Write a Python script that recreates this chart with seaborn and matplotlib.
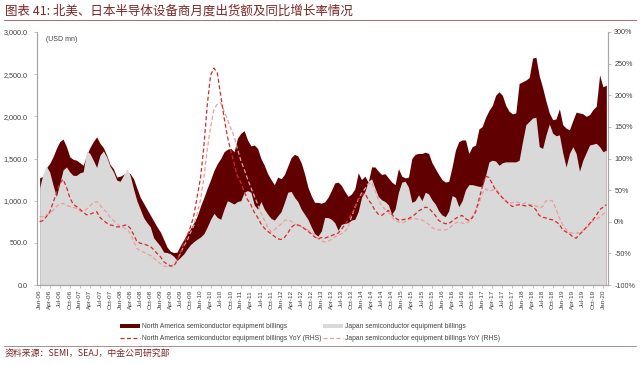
import numpy as np
import pandas as pd
import matplotlib
matplotlib.use("Agg")
import matplotlib.pyplot as plt
import seaborn as sns
from matplotlib.ticker import FuncFormatter, MultipleLocator
from matplotlib.lines import Line2D
from matplotlib.patches import Patch

# ---------------- data ----------------
months = pd.date_range("2006-01-01", "2020-02-01", freq="MS")
tick_labels = [d.strftime("%b-%y") for d in months[::3]]

na_billings = [
    1270, 1290, 1390, 1440, 1520, 1620, 1700, 1730, 1640, 1520, 1490, 1480,   # 2006
    1450, 1420, 1540, 1630, 1700, 1757, 1680, 1630, 1540, 1430, 1380, 1280,   # 2007
    1290, 1310, 1340, 1320, 1260, 1150, 1040, 970, 900, 830, 760, 690,        # 2008
    630, 540, 450, 400, 385, 390, 470, 540, 610, 670, 740, 820,               # 2009
    940, 1040, 1150, 1250, 1360, 1440, 1500, 1580, 1610, 1620, 1580, 1740,   # 2010
    1800, 1830, 1720, 1650, 1660, 1620, 1500, 1420, 1320, 1250, 1190, 1280,  # 2011
    1260, 1310, 1410, 1510, 1550, 1530, 1450, 1320, 1160, 1060, 980, 980,    # 2012
    970, 985, 1040, 1120, 1210, 1220, 1180, 1110, 1050, 1080, 1140, 1330,    # 2013
    1250, 1290, 1220, 1400, 1400, 1350, 1310, 1320, 1270, 1220, 1190, 1380,  # 2014
    1290, 1270, 1280, 1500, 1550, 1560, 1560, 1575, 1560, 1450, 1380, 1310,  # 2015
    1250, 1220, 1230, 1400, 1600, 1700, 1720, 1720, 1560, 1640, 1660, 1850,  # 2016
    1880, 1990, 2070, 2130, 2250, 2290, 2250, 2130, 2060, 2030, 2040, 2390,  # 2017
    2410, 2430, 2460, 2690, 2700, 2480, 2340, 2180, 2040, 1960, 1970, 2090,  # 2018
    1900, 1860, 1840, 1950, 2050, 2040, 2030, 2000, 2020, 2080, 2120, 2490,  # 2019
    2350, 2370,                                                               # 2020
]

japan_billings = [
    1150, 1320, 1410, 1340, 1185, 1050, 1205, 1365, 1400, 1340, 1300, 1300,
    1330, 1343, 1590, 1560, 1480, 1395, 1540, 1590, 1520, 1410, 1343, 1244,
    1230, 1300, 1380, 1300, 1140, 1000, 900, 800, 740, 690, 560, 510,
    460, 390, 385, 370, 340, 290, 330, 370, 430, 480, 515, 545,
    570, 610, 690, 780, 850, 800, 780, 900, 1000, 980, 960, 990,
    1000, 1100, 1120, 1100, 950, 900, 990, 900, 840, 790, 770, 820,
    870, 980, 1100, 1110, 1040, 990, 900, 840, 780, 690, 610, 580,
    640, 800, 800, 780, 740, 650, 720, 730, 740, 770, 780, 870,
    1040, 1110, 1230, 1260, 1150, 1050, 1010, 990, 950, 840, 900, 1100,
    1220, 1230, 1160, 980, 1000, 1070, 1000, 1100, 1080, 1010, 960, 880,
    830, 810, 880, 1060, 1040, 930, 1000, 1130, 1190, 1190, 1180, 1170,
    1170, 1300, 1460, 1480, 1470, 1420, 1450, 1460, 1460, 1460, 1460, 1480,
    1700, 1900, 1940, 1980, 1990, 1640, 1620, 1780, 1910, 1800, 1770, 1780,
    1570, 1400, 1560, 1640, 1560, 1350, 1480, 1570, 1660, 1670, 1680, 1640,
    1580, 1600,
]

na_yoy = [
    0, 2, 8, 15, 30, 45, 60, 67, 55, 38, 28, 24,
    20, 15, 11, 12, 14, 16, 7, 2, -2, -5, -6, -8,
    -8, -6, -5, -10, -20, -31, -34, -35, -37, -39, -44, -50,
    -55, -63, -67, -70, -70, -62, -48, -35, -22, -8, 10, 40,
    70, 120, 185, 232, 243, 235, 200, 165, 135, 112, 92, 72,
    62, 48, 35, 27, 15, 7, -3, -10, -15, -19, -23, -27,
    -28, -25, -18, -9, -5, -5, -7, -11, -15, -19, -24, -27,
    -25, -26, -24, -22, -20, -18, -12, -5, 3, 12, 22, 35,
    42, 45, 35, 28, 18, 12, 10, 14, 18, 12, 6, 3,
    3, 4, 5, 8, 12, 17, 20, 23, 22, 16, 10, 2,
    -1, -3, -3, 1, 5, 8, 10, 5, 2, 6, 15, 35,
    55, 72, 70, 60, 50, 44, 38, 33, 28, 24, 26, 27,
    26, 25, 26, 24, 19, 10, 7, 6, 4, 3, 0, -4,
    -13, -16, -19, -24, -26, -20, -15, -9, -3, 3, 10, 19,
    23, 27,
]

japan_yoy = [
    8, 8, 11, 13, 18, 24, 28, 29, 26, 24, 23, 21,
    17, 16, 20, 25, 30, 32, 26, 20, 15, 7, 2, -3,
    -7, -9, -12, -18, -30, -42, -46, -48, -51, -53, -57, -62,
    -66, -70, -71, -70, -68, -60, -50, -38, -30, -17, -6, 13,
    35, 70, 115, 150, 178, 186, 188, 175, 162, 148, 135, 115,
    97, 83, 68, 54, 41, 28, 14, 3, -8, -16, -13, -8,
    -4, 2, 3, 1, -3, -6, -8, -10, -13, -16, -21, -27,
    -30, -32, -31, -28, -24, -21, -19, -16, -9, 8, 22, 35,
    45, 52, 60, 62, 50, 35, 25, 20, 15, 8, 2, 0,
    -2, 0, 3, 5, 5, 4, 3, 0, -4, -9, -12, -13,
    -13, -13, -11, -6, -2, 0, -2, -3, 0, 8, 18, 28,
    45, 52, 48, 50, 52, 46, 38, 33, 30, 30, 32, 30,
    28, 30, 27, 27, 25, 22, 24, 33, 34, 33, 20, 6,
    -5, -12, -17, -18, -18, -17, -14, -10, -5, 2, 4, 7,
    12, 16,
]

label_na = "North America semiconductor equipment billings"
label_jp = "Japan semiconductor equipment billings"
label_na_yoy = "North America semiconductor equipment billings YoY (RHS)"
label_jp_yoy = "Japan semiconductor equipment billings YoY (RHS)"
title = "图表 41: 北美、日本半导体设备商月度出货额及同比增长率情况"
source = "资料来源：SEMI，SEAJ，中金公司研究部"

# ---------------- style ----------------
sns.set_theme(style="white")
plt.rcParams['font.family'] = ['Liberation Sans', 'Noto Sans CJK SC', 'DejaVu Sans']

C_NA = '#600000'
C_JP = '#D9D9D9'
C_NA_YOY = '#D22B2B'
C_JP_YOY = '#F09A9A'
C_AXIS = '#A6A6A6'
C_TXT = '#404040'
C_TITLE = '#7B2525'
DASH = (0, (3.2, 2.0))

df = pd.DataFrame({
    "idx": np.arange(len(months)),
    "na": na_billings,
    "jp": japan_billings,
    "na_yoy": na_yoy,
    "jp_yoy": japan_yoy,
})

W, H = 640, 365
fig = plt.figure(figsize=(W / 100, H / 100), dpi=100)
ax = fig.add_axes([37 / W, 1 - 285 / H, 571 / W, 253 / H])

ax.fill_between(df["idx"], 0, df["na"], color=C_NA, lw=0, zorder=1)
ax.fill_between(df["idx"], 0, df["jp"], color=C_JP, lw=0, zorder=2)

ax2 = ax.twinx()
sns.lineplot(data=df, x="idx", y="na_yoy", ax=ax2, color=C_NA_YOY,
             lw=0.9, linestyle=DASH, zorder=4)
sns.lineplot(data=df, x="idx", y="jp_yoy", ax=ax2, color=C_JP_YOY,
             lw=0.9, linestyle=DASH, zorder=3)

# axes limits / ticks
ax.set_xlim(-0.78, 169.5)
ax.set_ylim(0, 3000)
ax2.set_ylim(-100, 300)
ax.yaxis.set_major_locator(MultipleLocator(500))
ax2.yaxis.set_major_locator(MultipleLocator(50))
ax.yaxis.set_major_formatter(FuncFormatter(lambda v, p: f"{v:,.1f}"))
ax2.yaxis.set_major_formatter(FuncFormatter(lambda v, p: f"{int(round(v))}%"))
ax.set_xticks(np.arange(0, len(months), 3))
ax.set_xticklabels(tick_labels, rotation=90, fontsize=4.6, color=C_TXT)

for a in (ax, ax2):
    a.set_xlabel("")
    a.set_ylabel("")
    a.grid(False)
    a.spines['top'].set_visible(False)
    for s in ('left', 'right', 'bottom'):
        a.spines[s].set_color(C_AXIS)
        a.spines[s].set_linewidth(0.8)

ax.tick_params(axis='y', which='both', left=True, length=2.5, width=0.5,
               color=C_AXIS, labelsize=5.2, labelcolor=C_TXT, pad=4)
ax.tick_params(axis='x', bottom=True, length=2, width=0.5, color=C_AXIS, pad=1.5)
ax2.tick_params(axis='y', right=True, length=2.5, width=0.5, color=C_AXIS,
                labelsize=5.2, labelcolor=C_TXT, pad=2)

ax.text(0.0155, 0.985, "(USD mn)", transform=ax.transAxes,
        fontsize=5, color=C_TXT, va='top', ha='left')

# ---------------- legend (2 columns, aligned) ----------------
h_na = Patch(facecolor=C_NA, edgecolor='none')
h_jp = Patch(facecolor=C_JP, edgecolor='none')
h_nay = Line2D([], [], color=C_NA_YOY, lw=0.9, linestyle=DASH)
h_jpy = Line2D([], [], color=C_JP_YOY, lw=0.9, linestyle=DASH)

fig.legend([h_na, h_nay, h_jp, h_jpy],
           [label_na, label_na_yoy, label_jp, label_jp_yoy],
           loc='center left', bbox_to_anchor=(120 / W, 1 - 332.7 / H),
           ncol=2, frameon=False, fontsize=4.9,
           handlelength=2.9, handleheight=0.55, handletextpad=0.3,
           columnspacing=0.25, labelspacing=0.8,
           borderpad=0, borderaxespad=0, labelcolor=C_TXT)

# ---------------- title / source / rules ----------------
fig.text(5 / W, 1 - 11 / H, title, fontsize=9.0, color=C_TITLE, va='center', ha='left',
         family=['Noto Sans CJK SC', 'DejaVu Sans'])
fig.add_artist(Line2D([4 / W, 636 / W], [1 - 20 / H, 1 - 20 / H],
                      color='#9C7A7A', lw=0.8, transform=fig.transFigure))
fig.add_artist(Line2D([4 / W, 636 / W], [1 - 345.5 / H, 1 - 345.5 / H],
                      color='#9C7A7A', lw=0.6, transform=fig.transFigure))
fig.text(5 / W, 1 - 353.5 / H, source, fontsize=6.4, color=C_TITLE, va='center', ha='left',
         family=['Noto Sans CJK SC', 'DejaVu Sans'])

fig.savefig("out.png", dpi=100)
